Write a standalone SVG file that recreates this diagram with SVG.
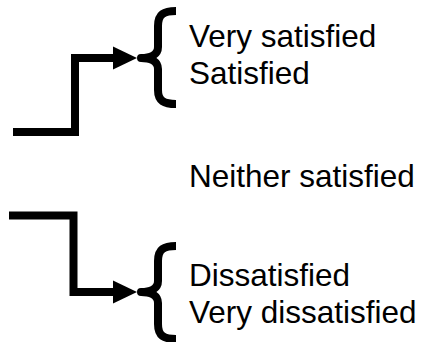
<svg xmlns="http://www.w3.org/2000/svg" width="424" height="342" viewBox="0 0 424 342">
<defs>
<style>
.lbl{font-family:"Liberation Sans",Arial,sans-serif;font-size:31.5px;fill:#000}
.conn{fill:none;stroke:#000;stroke-width:8;stroke-linejoin:miter}
.brace{fill:none;stroke:#000;stroke-width:8;stroke-linejoin:round}
</style>
<marker id="arr" markerUnits="userSpaceOnUse" markerWidth="26" markerHeight="26" refX="0" refY="12" orient="auto">
<path d="M0,0.5 L24,12 L0,23.5 Z" fill="#000"/>
</marker>
</defs>
<rect width="424" height="342" fill="#fff"/>
<g id="connectors">
<path class="conn" d="M13,132 H75 V58 H113" marker-end="url(#arr)"/>
<path class="conn" d="M9,215.5 H73.5 V292 H113" marker-end="url(#arr)"/>
</g>
<g id="satisfied-group">
<path class="brace" d="M176,11 C164,11 158,14 158,26 V47 C158,54 152,58 141,58 C152,58 158,62 158,69 V90 C158,101 164,104 176,104"/>
<text class="lbl" x="189" y="47">Very satisfied</text>
<text class="lbl" x="189" y="84">Satisfied</text>
</g>
<g id="neither">
<text class="lbl" x="189" y="187">Neither satisfied</text>
</g>
<g id="dissatisfied-group">
<path class="brace" d="M176,246 C164,246 158,249 158,261 V281 C158,288 152,292 141,292 C152,292 158,296 158,303 V324 C158,336 164,339 176,339"/>
<text class="lbl" x="189" y="286">Dissatisfied</text>
<text class="lbl" x="189" y="322.5">Very dissatisfied</text>
</g>
</svg>
